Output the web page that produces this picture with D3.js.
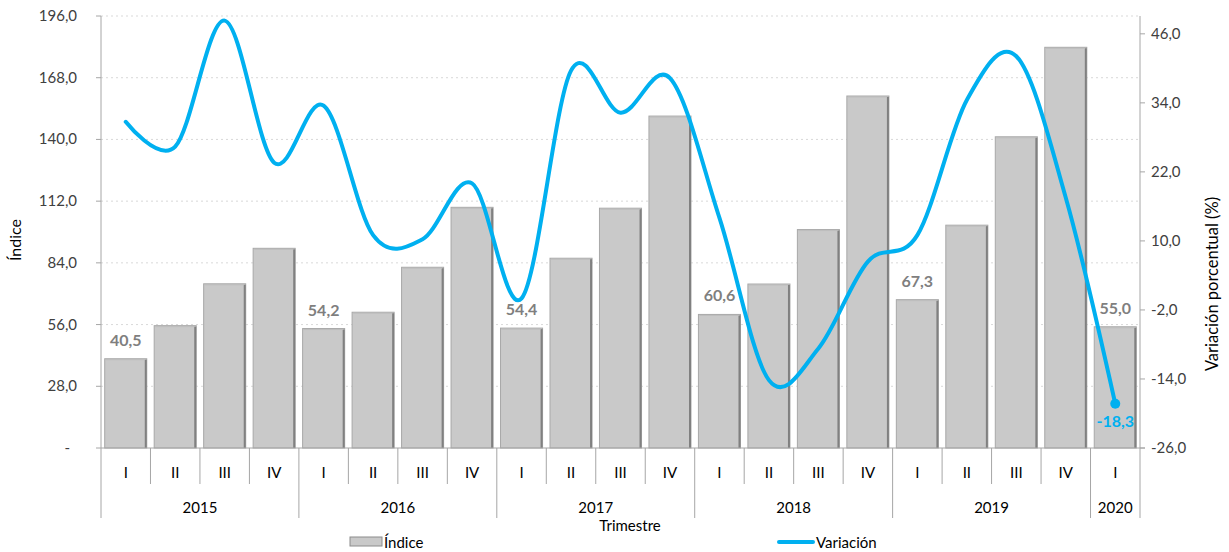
<!DOCTYPE html>
<html><head><meta charset="utf-8">
<script src="https://cdn.jsdelivr.net/npm/d3@7/dist/d3.min.js"></script>
<style>
html,body{margin:0;padding:0;background:#fff;}
svg text{font-family:Lato,"Open Sans",sans-serif;}
</style></head>
<body>
<svg id="c" width="1229" height="552"></svg>
<script>
const quarters = ["I","II","III","IV","I","II","III","IV","I","II","III","IV","I","II","III","IV","I","II","III","IV","I"];
const years = ["2015","2016","2017","2018","2019","2020"];
const yearCounts = [4,4,4,4,4,1];
const indice = [40.5,55.5,74.5,90.6,54.2,61.6,82.0,109.2,54.4,86.1,108.8,150.6,60.6,74.4,99.1,159.7,67.3,101.1,141.2,181.8,55.0];
const variacion = [30.7,26.4,48.3,23.6,33.5,11.0,10.3,20.0,0.0,39.6,32.3,38.3,14.0,-14.2,-8.7,6.4,11.0,34.5,42.1,17.5,-18.3];
const leftTicks = [0,28,56,84,112,140,168,196];
const rightTicks = [-26,-14,-2,10,22,34,46];
const labeledBars = [0,4,8,12,16,20];

const svg = d3.select("#c");
const L = 101, R = 1140, T = 16, B = 448;
const ids = d3.range(indice.length);
const x = d3.scaleBand().domain(ids).range([L,R]).paddingInner(0.15).paddingOuter(0.075);
const step = (R-L)/indice.length;
const yL = d3.scaleLinear().domain([0,196]).range([B,T]);
const yR = d3.scaleLinear().domain([-26,49.1]).range([B,T]);
const fmt = v => v.toFixed(1).replace(".", ",");
const axisCol = "#A6A6A6";
const txtCol = "#404040";

// gridlines
svg.append("g").selectAll("line").data(leftTicks.filter(d=>d>0)).join("line")
  .attr("x1",L).attr("x2",R).attr("y1",d=>yL(d)).attr("y2",d=>yL(d))
  .attr("stroke","#D9D9D9").attr("stroke-width",1).attr("stroke-dasharray","2,3");

// bars
const bars = svg.append("g");
bars.selectAll("rect").data(indice).join("rect")
  .attr("x",(d,i)=>x(i)).attr("y",d=>yL(d)).attr("width",x.bandwidth()).attr("height",d=>B-yL(d))
  .attr("fill","#C9C9C9").attr("stroke","#A8A8A8").attr("stroke-width",1);
bars.selectAll("line.sh").data(indice).join("line").attr("class","sh")
  .attr("x1",(d,i)=>x(i)+x.bandwidth()-1).attr("x2",(d,i)=>x(i)+x.bandwidth()-1)
  .attr("y1",d=>yL(d)+1).attr("y2",B)
  .attr("stroke","#808080").attr("stroke-width",2);
bars.selectAll("line.tp").data(indice).join("line").attr("class","tp")
  .attr("x1",(d,i)=>x(i)+1).attr("x2",(d,i)=>x(i)+x.bandwidth()-2)
  .attr("y1",d=>yL(d)+1).attr("y2",d=>yL(d)+1)
  .attr("stroke","#BDBDBD").attr("stroke-width",1);

// bar labels
svg.append("g").selectAll("text").data(labeledBars).join("text")
  .attr("x",i=>x(i)+x.bandwidth()/2).attr("y",i=>yL(indice[i])-13)
  .attr("text-anchor","middle").attr("font-size",16).attr("font-weight","bold")
  .attr("fill","#7F7F7F").text(i=>fmt(indice[i]));

// axes lines
svg.append("line").attr("x1",L).attr("x2",L).attr("y1",T).attr("y2",518).attr("stroke",axisCol);
svg.append("line").attr("x1",R).attr("x2",R).attr("y1",T).attr("y2",518).attr("stroke",axisCol);
svg.append("line").attr("x1",L).attr("x2",R+5).attr("y1",B).attr("y2",B).attr("stroke",axisCol);

// left axis
const gl = svg.append("g");
gl.selectAll("line").data(leftTicks).join("line")
  .attr("x1",L-5).attr("x2",L).attr("y1",d=>yL(d)).attr("y2",d=>yL(d)).attr("stroke",axisCol);
gl.selectAll("text").data(leftTicks).join("text")
  .attr("x",d=>d===0?70:77).attr("y",d=>yL(d)+5).attr("text-anchor","end")
  .attr("font-size",15).attr("fill",txtCol).text(d=>d===0?"-":fmt(d));

// right axis
const gr = svg.append("g");
gr.selectAll("line").data(rightTicks).join("line")
  .attr("x1",R).attr("x2",R+5).attr("y1",d=>yR(d)).attr("y2",d=>yR(d)).attr("stroke",axisCol);
gr.selectAll("text").data(rightTicks).join("text")
  .attr("x",1151).attr("y",d=>yR(d)+5).attr("text-anchor","start")
  .attr("font-size",15).attr("fill",txtCol).text(d=>fmt(d));

// axis titles
svg.append("text").attr("transform","translate(21,240) rotate(-90)").attr("text-anchor","middle")
  .attr("font-size",16).attr("fill","#000").text("Índice");
svg.append("text").attr("transform","translate(1218,284) rotate(-90)").attr("text-anchor","middle")
  .attr("font-size",16.5).attr("fill","#000").text("Variación porcentual (%)");

// category axis
const gc = svg.append("g");
const yearStarts = [];
let acc = 0; yearCounts.forEach(c=>{yearStarts.push(acc); acc+=c;});
gc.selectAll("line.q").data(d3.range(1,indice.length).filter(i=>!yearStarts.includes(i))).join("line").attr("class","q")
  .attr("x1",i=>L+i*step).attr("x2",i=>L+i*step).attr("y1",B).attr("y2",484).attr("stroke",axisCol);
gc.selectAll("line.y").data(yearStarts.slice(1)).join("line").attr("class","y")
  .attr("x1",i=>L+i*step).attr("x2",i=>L+i*step).attr("y1",B).attr("y2",518).attr("stroke",axisCol);
gc.selectAll("text.q").data(quarters).join("text").attr("class","q")
  .attr("x",(d,i)=>x(i)+x.bandwidth()/2).attr("y",478).attr("text-anchor","middle")
  .attr("font-size",15).attr("fill","#000").text(d=>d);
gc.selectAll("text.y").data(years).join("text").attr("class","y")
  .attr("x",(d,i)=>L+(yearStarts[i]+yearCounts[i]/2)*step).attr("y",513).attr("text-anchor","middle")
  .attr("font-size",15).attr("fill","#000").text(d=>d);
svg.append("text").attr("x",630).attr("y",531).attr("text-anchor","middle")
  .attr("font-size",15).attr("fill","#000").text("Trimestre");

// line
const line = d3.line().x((d,i)=>x(i)+x.bandwidth()/2).y(d=>yR(d)).curve(d3.curveCardinal.tension(0));
svg.append("path").datum(variacion).attr("d",line).attr("fill","none")
  .attr("stroke","#00B0F0").attr("stroke-width",4).attr("stroke-linecap","round").attr("stroke-linejoin","round");
const li = variacion.length-1;
svg.append("circle").attr("cx",x(li)+x.bandwidth()/2).attr("cy",yR(variacion[li])).attr("r",5).attr("fill","#00B0F0");
svg.append("text").attr("x",x(li)+x.bandwidth()/2).attr("y",yR(variacion[li])+23).attr("text-anchor","middle")
  .attr("font-size",16).attr("font-weight","bold").attr("fill","#00B0F0").text(fmt(variacion[li]));

// legend
const lg = svg.append("g");
lg.append("rect").attr("x",350).attr("y",537).attr("width",32).attr("height",9)
  .attr("fill","#C9C9C9").attr("stroke","#8C8C8C").attr("stroke-width",1);
lg.append("text").attr("x",384).attr("y",548).attr("font-size",15).attr("fill","#000").text("Índice");
lg.append("line").attr("x1",779).attr("x2",813).attr("y1",542).attr("y2",542)
  .attr("stroke","#00B0F0").attr("stroke-width",4).attr("stroke-linecap","round");
lg.append("text").attr("x",816).attr("y",548).attr("font-size",15).attr("fill","#000").text("Variación");
</script>
</body></html>
